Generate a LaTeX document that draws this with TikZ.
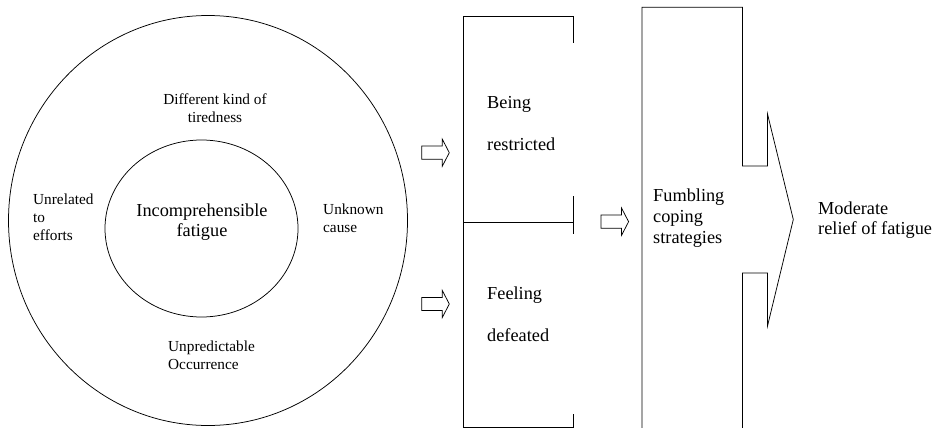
\documentclass[tikz,border=0pt]{standalone}
\usepackage{fontspec}
\setmainfont{Liberation Serif}
\usetikzlibrary{shapes.geometric}

\tikzset{
  smalltxt/.style={font=\fontsize{15.3}{18}\selectfont, inner sep=0pt},
  bigtxt/.style={font=\fontsize{18.3}{20}\selectfont, inner sep=0pt},
  frame/.style={line width=0.75pt, line join=miter},
  hollow arrow/.pic={
    \draw[frame] (0,-6.6) -- (20.6,-6.6) -- (20.6,-13.5) -- (27.6,0)
      -- (20.6,13.5) -- (20.6,6.6) -- (0,6.6) -- cycle;
  }
}

\begin{document}
\begin{tikzpicture}[x=1pt, y=-1pt]
  \useasboundingbox (0,0) rectangle (934,428);

  % Left: two circles with their themes
  \node[frame, draw, ellipse, minimum width=399pt, minimum height=410pt] (outer) at (208,220.5) {};
  \node[frame, draw, ellipse, minimum width=193pt, minimum height=177pt] (inner) at (201.5,228.5) {};
  \node[bigtxt, align=center] (core) at (202,222) {Incomprehensible\\fatigue};
  \node[smalltxt, align=center] (tired) at (215,108) {Different kind of\\tiredness};
  \node[smalltxt, align=left, anchor=west] (effort) at (33,217) {Unrelated\\to\\efforts};
  \node[smalltxt, align=left, anchor=west] (cause) at (323,218.5) {Unknown\\cause};
  \node[smalltxt, align=left, anchor=west] (occur) at (168,355) {Unpredictable\\Occurrence};

  % Middle: open box in two parts
  \coordinate (MA) at (463,16);
  \coordinate (MB) at (573,16);
  \coordinate (MC) at (463,222);
  \coordinate (MD) at (573,222);
  \coordinate (ME) at (463,427.5);
  \coordinate (MF) at (573,427.5);
  \draw[frame] (573,43) -- (MB) -- (MA) -- (ME) -- (MF) -- (573,414);
  \draw[frame] (MC) -- (MD);
  \draw[frame] (573,196) -- (573,234);
  \node[bigtxt, align=left, anchor=west, font=\fontsize{18.3}{42}\selectfont] (restrict) at (487,124) {Being\\restricted};
  \node[bigtxt, align=left, anchor=west, font=\fontsize{18.3}{42}\selectfont] (defeat) at (487,314) {Feeling\\defeated};

  % Right: box opening into an arrow head
  \draw[frame] (642,428) -- (642,7.3) -- (742.5,7.3) -- (742.5,166) -- (767.5,166)
    -- (767.5,114) -- (793.3,219.5) -- (767.5,326) -- (767.5,273) -- (742.5,273) -- (742.5,428);
  \node[bigtxt, align=left, anchor=west, font=\fontsize{18.3}{21}\selectfont] (fumble) at (653,218) {Fumbling\\coping\\strategies};
  \node[bigtxt, align=left, anchor=west] (relief) at (818,220) {Moderate\\relief of fatigue};

  % Block arrows
  \pic at (421.7,152.7) {hollow arrow};
  \pic at (421.7,304) {hollow arrow};
  \pic at (601,221.7) {hollow arrow};
\end{tikzpicture}
\end{document}
